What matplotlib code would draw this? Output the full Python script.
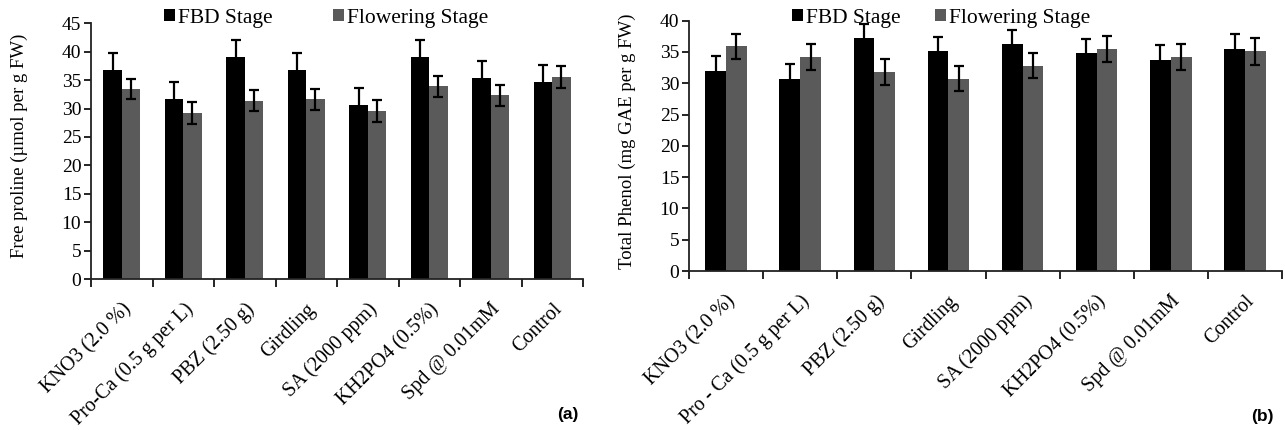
import matplotlib
matplotlib.use("Agg")
import matplotlib.pyplot as plt
import numpy as np
from matplotlib.patches import Patch

categories_a = ["KNO3 (2.0 %)", "Pro-Ca (0.5 g per L)", "PBZ (2.50 g)", "Girdling",
                "SA (2000 ppm)", "KH2PO4 (0.5%)", "Spd @ 0.01mM", "Control"]
categories_b = ["KNO3 (2.0 %)", "Pro - Ca (0.5 g per L)", "PBZ (2.50 g)", "Girdling",
                "SA (2000 ppm)", "KH2PO4 (0.5%)", "Spd @ 0.01mM", "Control"]

series_names = ["FBD Stage", "Flowering Stage"]

proline_fbd = [36.7, 31.6, 39.0, 36.7, 30.7, 39.0, 35.4, 34.7]
proline_fbd_err = [3.0, 3.1, 3.0, 3.0, 3.0, 3.0, 3.0, 3.0]
proline_flw = [33.4, 29.2, 31.4, 31.6, 29.6, 33.9, 32.3, 35.6]
proline_flw_err = [1.8, 1.9, 1.8, 1.9, 1.9, 1.9, 1.9, 1.9]

phenol_fbd = [32.0, 30.7, 37.2, 35.1, 36.3, 34.8, 33.7, 35.5]
phenol_fbd_err = [2.3, 2.4, 2.3, 2.3, 2.2, 2.2, 2.4, 2.3]
phenol_flw = [35.9, 34.2, 31.8, 30.7, 32.8, 35.5, 34.2, 35.1]
phenol_flw_err = [2.0, 2.0, 2.0, 2.0, 2.0, 2.1, 2.0, 2.1]

yticks_a = [0, 5, 10, 15, 20, 25, 30, 35, 40, 45]
yticks_b = [0, 5, 10, 15, 20, 25, 30, 35, 40]

C_FBD = "#000000"
C_FLW = "#5a5a5a"
SERIF = "Liberation Serif"

W, H = 1285, 430
fig = plt.figure(figsize=(W / 100, H / 100), dpi=100)


def px_axes(x0, x1, y_top, y_zero):
    return fig.add_axes([x0 / W, 1 - y_zero / H, (x1 - x0) / W, (y_zero - y_top) / H])


def draw_panel(ax, cats, fbd, fbd_err, flw, flw_err, yticks, ylabel, bw, lab_x):
    n = len(cats)
    x = np.arange(n)
    ekw = dict(ecolor="black", elinewidth=1.6, capsize=3.3, capthick=1.6)
    ax.bar(x - bw / 2, fbd, bw, color=C_FBD, yerr=fbd_err, error_kw=ekw, zorder=2)
    ax.bar(x + bw / 2, flw, bw, color=C_FLW, yerr=flw_err, error_kw=ekw, zorder=2)
    ax.set_xlim(-0.5, n - 0.5)
    ax.set_ylim(yticks[0], yticks[-1])
    ax.set_yticks(yticks)
    ax.set_yticklabels([str(t) for t in yticks], fontfamily=SERIF, fontsize=14)
    ax.tick_params(axis="y", direction="out", length=5, width=1.2, pad=2)
    ax.set_xticks(x)
    ax.set_xticklabels(cats, rotation=45, ha="right", va="top", rotation_mode="anchor",
                       fontfamily=SERIF, fontsize=14.5)
    ax.tick_params(axis="x", which="major", length=0, pad=15)
    ax.set_xticks(np.arange(-0.5, n, 1.0), minor=True)
    ax.tick_params(axis="x", which="minor", direction="out", length=6, width=1.2)
    for s in ["top", "right"]:
        ax.spines[s].set_visible(False)
    for s in ["left", "bottom"]:
        ax.spines[s].set_linewidth(1.3)
        ax.spines[s].set_color("#222222")
    ax.set_ylabel(ylabel, fontfamily=SERIF, fontsize=13.5)
    ax.yaxis.set_label_coords(lab_x, 0.52)


ax1 = px_axes(91, 583, 23.3, 279)
draw_panel(ax1, categories_a, proline_fbd, proline_fbd_err, proline_flw, proline_flw_err,
           yticks_a, "Free proline (\u00b5mol per g FW)", 0.30, -0.128)

ax2 = px_axes(689, 1282, 20.7, 271)
draw_panel(ax2, categories_b, phenol_fbd, phenol_fbd_err, phenol_flw, phenol_flw_err,
           yticks_b, "Total Phenol (mg GAE per g FW)", 0.28, -0.09)

handles = [Patch(facecolor=C_FBD, label=series_names[0]),
           Patch(facecolor=C_FLW, label=series_names[1])]
for ax, cx, cs in [(ax1, 326, 2.8), (ax2, 941, 1.6)]:
    ax.legend(handles=handles, loc="center", bbox_to_anchor=(cx / W, 1 - 18 / H),
              bbox_transform=fig.transFigure, ncol=2, frameon=False,
              prop={"family": SERIF, "size": 15.5}, handlelength=0.5, handleheight=0.5,
              handletextpad=0.15, columnspacing=cs, borderpad=0)

fig.text(568 / W, 1 - 415 / H, "(a)", fontfamily="Liberation Sans", fontweight="bold",
         fontsize=12.5, ha="center", va="center")
fig.text(1262 / W, 1 - 417 / H, "(b)", fontfamily="Liberation Sans", fontweight="bold",
         fontsize=12.5, ha="center", va="center")

fig.savefig("out.png", dpi=100)
